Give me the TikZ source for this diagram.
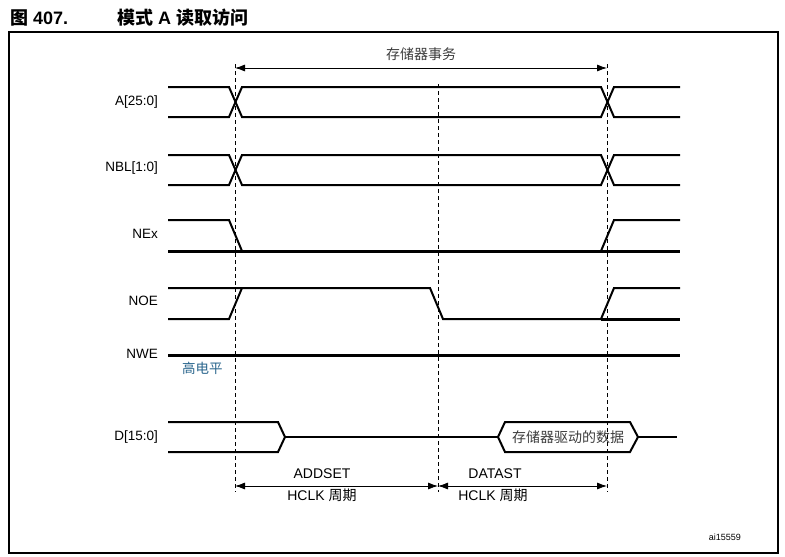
\documentclass[tikz,border=0pt]{standalone}
\usepackage{fontspec}
\setmainfont{Liberation Sans}
\newfontfamily\cjk{Noto Sans CJK SC}
\usetikzlibrary{arrows.meta}
\definecolor{lvlblue}{RGB}{40,100,140}
\definecolor{txtgray}{RGB}{60,60,60}

\begin{document}
\begin{tikzpicture}
[x=1pt, y=-1pt, every node/.style={inner sep=0pt}, sig/.style={line width=2pt, line join=miter}, thk/.style={line width=3pt}, guide/.style={line width=0.8pt, dash pattern=on 4pt off 3pt}, dimline/.style={line width=0.8pt, {Latex[length=10pt,width=7pt]}-{Latex[length=10pt,width=7pt]}}, siglabel/.style={anchor=east, font=\fontsize{13.5}{15}\selectfont}, dimlabel/.style={font=\fontsize{14}{16}\selectfont}]
\useasboundingbox (0,0) rectangle (785,557);
\draw [line width=1.2pt] (9,32) rectangle (778,553);
\node (fig) [anchor=base west, font=\bfseries\fontsize{18}{20}\selectfont] at (10,24) {{\cjk 图} 407.};
\node (caption) [anchor=base west, font=\bfseries\fontsize{18}{20}\selectfont] at (117,24) {{\cjk 模式} A {\cjk 读取访问}};
\node (lblA) [siglabel] at (158,102) {A[25:0]};
\node (lblNBL) [siglabel] at (158,168) {NBL[1:0]};
\node (lblNEx) [siglabel] at (158,234) {NEx};
\node (lblNOE) [siglabel] at (158,301) {NOE};
\node (lblNWE) [siglabel] at (158,354) {NWE};
\node (lblD) [siglabel] at (158,437) {D[15:0]};
\node (high) [anchor=west, text=lvlblue, font=\cjk\fontsize{13.5}{15}\selectfont] at (182,368) {高电平};
\draw [sig] (168,87) -- (229,87) -- (242,117) -- (601,117) -- (614,87) -- (680,87);
\draw [sig] (168,117) -- (229,117) -- (242,87) -- (601,87) -- (614,117) -- (680,117);
\draw [sig] (168,155) -- (229,155) -- (242,185) -- (601,185) -- (614,155) -- (680,155);
\draw [sig] (168,185) -- (229,185) -- (242,155) -- (601,155) -- (614,185) -- (680,185);
\draw [sig] (168,220) -- (229,220) -- (242,251);
\draw [thk] (168,251) -- (680,251);
\draw [sig] (601,251) -- (614,220) -- (680,220);
\draw [sig] (168,319) -- (229,319) -- (242,288);
\draw [sig] (168,288) -- (430,288) -- (443,319) -- (601,319) -- (614,288) -- (680,288);
\draw [thk] (601,319) -- (680,319);
\draw [thk] (168,355) -- (680,355);
\draw [sig] (168,422) -- (278,422) -- (285,437) -- (278,452) -- (168,452);
\draw [sig] (285,437) -- (498,437);
\draw [sig] (498,437) -- (505,422) -- (630,422) -- (638,437) -- (630,452) -- (505,452) -- cycle;
\draw [sig] (638,437) -- (677,437);
\node (drv) [text=txtgray, font=\cjk\fontsize{14}{16}\selectfont] at (568,437) {存储器驱动的数据};
\coordinate (t1) at (235,64);
\coordinate (t1b) at (235,492);
\coordinate (t2) at (438,84);
\coordinate (t2b) at (438,492);
\coordinate (t3) at (607,64);
\coordinate (t3b) at (607,492);
\draw [guide] (t1) -- (t1b);
\draw [guide] (t2) -- (t2b);
\draw [guide] (t3) -- (t3b);
\coordinate (trA) at (235,68);
\coordinate (trB) at (607,68);
\draw [dimline] (trA) -- (trB);
\node (trans) [text=txtgray, font=\cjk\fontsize{14}{16}\selectfont] at (421,54) {存储器事务};
\coordinate (cA) at (235,486);
\coordinate (cB) at (438,486);
\coordinate (cC) at (607,486);
\draw [dimline] (cA) -- (cB);
\draw [dimline] (cB) -- (cC);
\node (addset) [dimlabel] at (322,474) {ADDSET};
\node (addclk) [dimlabel] at (322,495) {HCLK {\cjk 周期}};
\node (datast) [dimlabel] at (495,474) {DATAST};
\node (datclk) [dimlabel] at (493,495) {HCLK {\cjk 周期}};
\node (ref) [anchor=east, font=\fontsize{9}{10}\selectfont] at (741,537) {ai15559};
\end{tikzpicture}
\end{document}
